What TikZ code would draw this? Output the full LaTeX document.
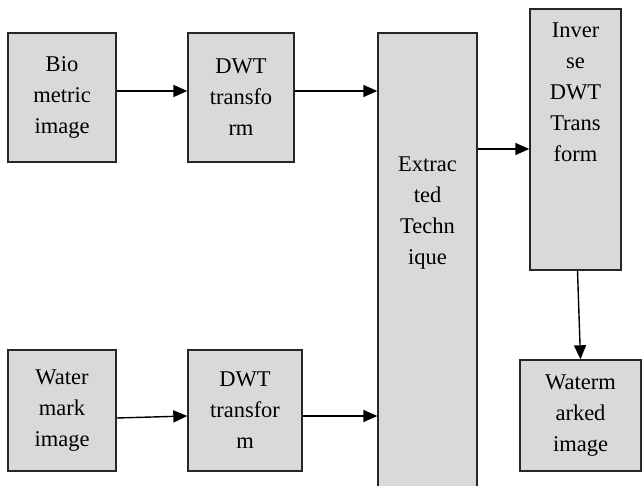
\documentclass[tikz,border=0pt]{standalone}
\usepackage{fontspec}
\setmainfont{Liberation Serif}
\usetikzlibrary{positioning,arrows.meta}

\begin{document}
\begin{tikzpicture}[x=1pt, y=-1pt,
    box/.style={draw=black!85, line width=1.4pt, fill=black!15, inner sep=0pt},
    txt/.style={align=center, inner sep=3pt, font=\fontsize{22.5}{31}\selectfont},
    flow/.style={line width=1.4pt, -{Triangle[length=14pt,width=12pt]}}]

    \useasboundingbox (0,0) rectangle (642,486);
    \clip (0,0) rectangle (642,486);

    % input blocks
    \node[box,txt,minimum width=108pt,minimum height=129pt] (bio) at (62,97.5) {Bio\\metric\\image};
    \node[box,txt,minimum width=106pt,minimum height=129pt] (dwta) at (241,97.5) {DWT\\transfo\\rm};
    \node[box,txt,minimum width=108pt,minimum height=121pt] (wm) at (62,410.5) {Water\\mark\\image};
    \node[box,txt,minimum width=114pt,minimum height=121pt] (dwtb) at (245,410.5) {DWT\\transfor\\m};

    % tall blocks
    \node[box,minimum width=99pt,minimum height=470pt] (ext) at (427.5,268) {};
    \node[txt,below=121pt of ext.north] (exttxt) {Extrac\\ted\\Techn\\ique};
    \node[box,minimum width=91pt,minimum height=261pt] (inv) at (575.5,139.5) {};
    \node[txt,below=11pt of inv.north] (invtxt) {Inver\\se\\DWT\\Trans\\form};

    \node[box,txt,minimum width=121pt,minimum height=111pt] (wmk) at (580.5,415.5) {Waterm\\arked\\image};

    % connectors
    \draw[flow] ([yshift=6.5pt]bio.east) -- ([yshift=6.5pt]dwta.west);
    \draw[flow] ([yshift=6.5pt]dwta.east) -- ([yshift=6.5pt]dwta.east -| ext.west);
    \draw[flow] ([yshift=-7.5pt]wm.east) -- ([yshift=-5.5pt]dwtb.west);
    \draw[flow] ([yshift=-5.5pt]dwtb.east) -- ([yshift=-5.5pt]dwtb.east -| ext.west);
    \draw[flow] (ext.east |- 0,149) -- (inv.west |- 0,149);
    \draw[flow] ([xshift=2pt]inv.south) -- (wmk.north);

\end{tikzpicture}
\end{document}
